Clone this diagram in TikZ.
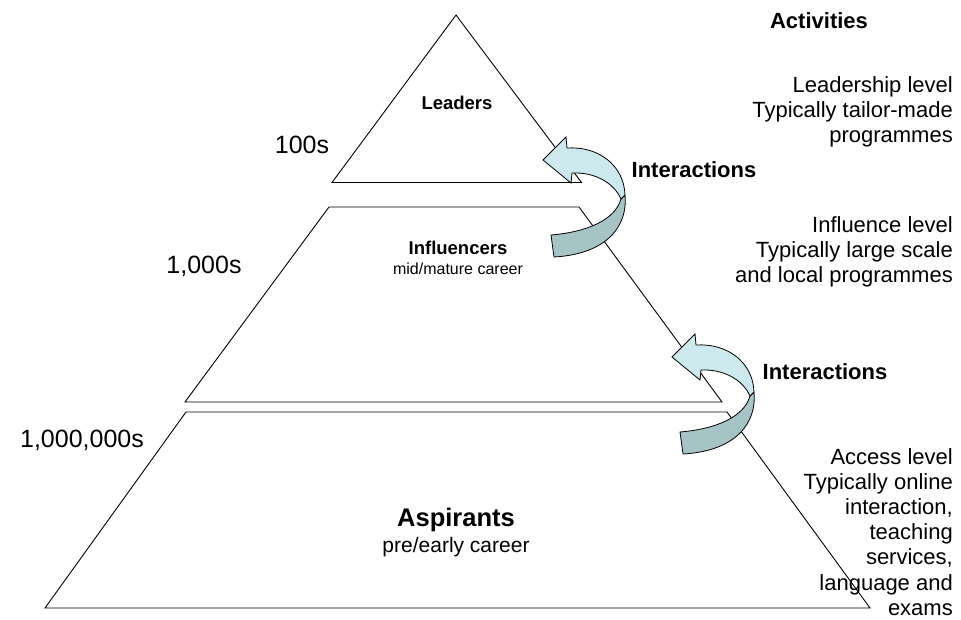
\documentclass[tikz,border=0pt]{standalone}
\usepackage{fontspec}
\setmainfont{Liberation Sans}
\begin{document}
\begin{tikzpicture}[x=1pt,y=-1pt,
  tier/.style={draw=black,line width=0.9pt,line join=miter},
  lbl/.style={inner sep=0pt,font=\fontsize{22}{25.2}\selectfont},
  boldlbl/.style={lbl,font=\fontsize{22}{25.2}\selectfont\bfseries},
  count/.style={inner sep=0pt,font=\fontsize{25}{28}\selectfont},
  activity/.style={lbl,align=right,anchor=north east},
  ribbon arrow/.pic={
    % twisted circular arrow: light front face with head, darker back face
    \filldraw[draw=black,line width=0.8pt,fill=ribbondark,line join=round]
      (25,-5) .. controls (28,25) and (8,54) .. (-46,57)
      -- (-49,35) .. controls (-13,32) and (15,20) .. (21,-1) -- cycle;
    \filldraw[draw=black,line width=0.8pt,fill=ribbonlight,line join=miter]
      (-33,-52) .. controls (-2,-54) and (24,-35) .. (25,-5)
      -- (21,-1) .. controls (14,-17) and (-5,-28) .. (-28,-27)
      -- (-29,-17) -- (-57,-40) -- (-34,-63) -- cycle;
  }]
\definecolor{ribbonlight}{RGB}{205,233,237}
\definecolor{ribbondark}{RGB}{166,196,198}
\useasboundingbox (0,0) rectangle (961,619);

% pyramid tiers
\draw[tier] (456,15) -- (581.5,182.5) -- (332,182.5) -- cycle;
\draw[tier] (329,207) -- (579,207) -- (722,402) -- (185,402) -- cycle;
\draw[tier] (186,412) -- (727,412) -- (870,608) -- (45,608) -- cycle;

% tier names
\node[inner sep=0pt,font=\fontsize{18.5}{21}\selectfont\bfseries] (leaders) at (457,103) {Leaders};
\node[inner sep=0pt,font=\fontsize{18.5}{21}\selectfont\bfseries] (influencers) at (458,248) {Influencers};
\node[inner sep=0pt,font=\fontsize{16}{19}\selectfont] (influencersub) at (458,269) {mid/mature career};
\node[inner sep=0pt,font=\fontsize{25.5}{29}\selectfont\bfseries] (aspirants) at (456,520) {Aspirants};
\node[inner sep=0pt,font=\fontsize{21}{25}\selectfont] (aspirantsub) at (456,547) {pre/early career};

% population sizes
\node[count] (n100) at (302,145) {100s};
\node[count] (n1k) at (204,266) {1,000s};
\node[count] (n1m) at (82,440) {1,000,000s};

% interaction arrows
\pic at (600,200) {ribbon arrow};
\pic at (729,397) {ribbon arrow};
\node[boldlbl] (int1) at (694,170) {Interactions};
\node[boldlbl] (int2) at (825,372) {Interactions};

% activities column
\node[boldlbl] (acthead) at (819,21) {Activities};
\node[activity] (act1) at (953,76) {Leadership level\\Typically tailor-made\\programmes};
\node[activity] (act2) at (953,216) {Influence level\\Typically large scale\\and local programmes};
\node[activity] (act3) at (953,448) {Access level\\Typically online\\interaction,\\teaching\\services,\\language and\\exams};
\end{tikzpicture}
\end{document}
